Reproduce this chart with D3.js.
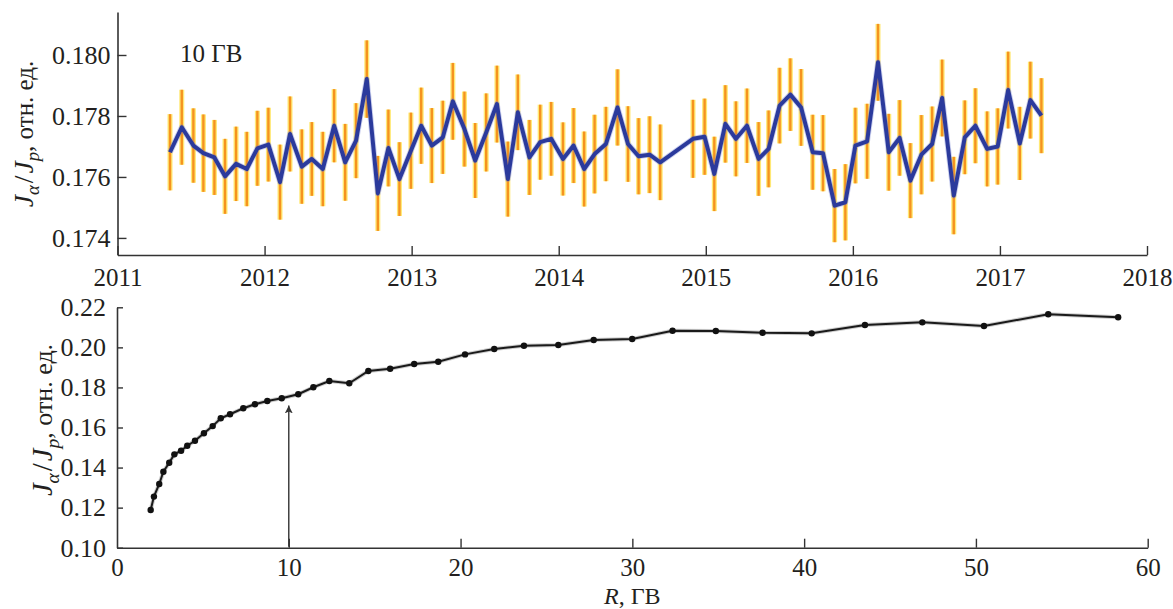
<!DOCTYPE html>
<html><head><meta charset="utf-8">
<script src="https://cdn.jsdelivr.net/npm/d3@7"></script>
<style>
html,body{margin:0;padding:0;background:#fff;}
svg{display:block;}
text{font-family:"Liberation Serif","Times New Roman",serif;fill:#231f20;}
</style></head>
<body>
<svg id="chart" width="1173" height="609"></svg>
<script>
// ---- Top panel: J_alpha/J_p at 10 GV vs time ----
const years = [2011.357,2011.437,2011.516,2011.584,2011.659,2011.731,2011.806,2011.879,2011.951,2012.026,
2012.105,2012.173,2012.253,2012.321,2012.396,2012.473,2012.548,2012.622,2012.695,2012.770,2012.842,2012.917,2012.995,
2013.065,2013.137,2013.212,2013.280,2013.359,2013.432,2013.507,2013.580,2013.654,2013.722,2013.801,2013.874,2013.949,
2014.029,2014.101,2014.173,2014.244,2014.321,2014.400,2014.471,2014.543,2014.618,2014.690,2014.913,2014.992,
2015.058,2015.133,2015.205,2015.280,2015.359,2015.427,2015.502,2015.575,2015.648,2015.727,2015.797,2015.876,2015.949,
2016.017,2016.097,2016.171,2016.244,2016.318,2016.391,2016.466,2016.539,2016.607,2016.686,2016.761,2016.833,2016.913,2016.985,
2017.056,2017.135,2017.207,2017.282];
const ratio10 = [0.17681,0.17763,0.17703,0.17678,0.17664,0.17602,0.17643,0.17626,0.17694,0.17706,
0.17583,0.17741,0.17634,0.17659,0.17626,0.17768,0.17648,0.17719,0.17921,0.17546,0.17695,0.17593,0.17686,
0.17768,0.17703,0.17730,0.17848,0.17757,0.17654,0.17746,0.17839,0.17593,0.17812,0.17664,0.17714,0.17725,
0.17659,0.17703,0.17626,0.17675,0.17708,0.17828,0.17708,0.17668,0.17673,0.17648,0.17725,0.17732,
0.17610,0.17774,0.17725,0.17768,0.17659,0.17692,0.17834,0.17870,0.17828,0.17681,0.17678,0.17506,0.17517,
0.17703,0.17717,0.17976,0.17681,0.17728,0.17588,0.17673,0.17708,0.17859,0.17539,0.17730,0.17768,0.17692,0.17700,
0.17885,0.17710,0.17852,0.17801];
const err10 = [0.00125,0.00123,0.00122,0.00127,0.00123,0.00123,0.00122,0.00122,0.00123,0.00121,
0.00123,0.00123,0.00122,0.00121,0.00122,0.00120,0.00126,0.00123,0.00127,0.00123,0.00126,0.00121,0.00125,
0.00125,0.00123,0.00120,0.00126,0.00123,0.00123,0.00128,0.00126,0.00123,0.00124,0.00123,0.00123,0.00121,
0.00120,0.00123,0.00123,0.00129,0.00122,0.00125,0.00124,0.00125,0.00126,0.00124,0.00128,0.00125,
0.00122,0.00127,0.00123,0.00122,0.00121,0.00126,0.00124,0.00119,0.00126,0.00123,0.00125,0.00120,0.00125,
0.00124,0.00123,0.00126,0.00126,0.00124,0.00123,0.00130,0.00123,0.00126,0.00127,0.00121,0.00123,0.00123,0.00125,
0.00126,0.00120,0.00126,0.00123];
const yearTicks = [2011,2012,2013,2014,2015,2016,2017,2018];
const topYTicks = [0.174,0.176,0.178,0.180];
const topLabel = "10 ГВ";

// ---- Bottom panel: J_alpha/J_p vs rigidity ----
const rigidity = [1.96,2.15,2.46,2.70,3.04,3.34,3.73,4.09,4.54,5.06,5.57,6.04,6.58,7.35,8.03,8.75,9.59,10.55,11.43,12.36,
13.52,14.63,15.9,17.3,18.7,20.26,21.96,23.69,25.69,27.75,29.99,32.34,34.86,37.58,40.44,43.54,46.88,50.47,54.21,58.28];
const ratioR = [0.1188,0.1255,0.1318,0.1379,0.1424,0.1466,0.1484,0.1509,0.1534,0.1571,0.1607,0.1646,0.1666,0.1696,0.1716,0.1732,0.1746,0.1766,0.1801,0.1832,
0.1821,0.1882,0.1893,0.1917,0.1928,0.1965,0.1992,0.2008,0.2012,0.2037,0.2042,0.2083,0.2082,0.2073,0.2070,0.2112,0.2125,0.2107,0.2165,0.2150];
const rTicks = [0,10,20,30,40,50,60];
const bottomYTicks = [0.10,0.12,0.14,0.16,0.18,0.20,0.22];
const arrowR = 10, arrowFrom = 0.10, arrowTo = 0.171;

const svg = d3.select("#chart");
const axisColor = "#333";

// scales
const xT = d3.scaleLinear().domain([2011,2018]).range([117.5,1147]);
const yT = d3.scaleLinear().domain([0.17344,0.18141]).range([255,12]);
const xB = d3.scaleLinear().domain([0,60]).range([117,1147.7]);
const yB = d3.scaleLinear().domain([0.10,0.22]).range([547.7,307.3]);

function styleAxis(g, fs){
  g.select(".domain").attr("stroke",axisColor).attr("stroke-width",1.6);
  g.selectAll(".tick line").attr("stroke",axisColor).attr("stroke-width",1.4);
  g.selectAll(".tick text").attr("font-size",fs).attr("fill","#231f20")
    .style("font-family","'Liberation Serif','Times New Roman',serif");
  g.attr("font-family",null);
}

// ---- top axes ----
const gxT = svg.append("g").attr("transform",`translate(0,${yT.range()[0]})`)
  .call(d3.axisBottom(xT).tickValues(yearTicks).tickFormat(d3.format("d")).tickSizeInner(-9).tickSizeOuter(0).tickPadding(13));
styleAxis(gxT,25);
const gyT = svg.append("g").attr("transform",`translate(${xT.range()[0]},0)`)
  .call(d3.axisLeft(yT).tickValues(topYTicks).tickFormat(d3.format(".3f")).tickSizeInner(-9).tickSizeOuter(0).tickPadding(7));
styleAxis(gyT,26);

// error bars
const bars = svg.append("g");
years.forEach((t,i)=>{
  bars.append("line").attr("x1",xT(t)).attr("x2",xT(t))
    .attr("y1",yT(ratio10[i]-err10[i])).attr("y2",yT(ratio10[i]+err10[i]))
    .attr("stroke","#ffe45c").attr("stroke-width",5).attr("stroke-opacity",0.85);
  bars.append("line").attr("x1",xT(t)).attr("x2",xT(t))
    .attr("y1",yT(ratio10[i]-err10[i])).attr("y2",yT(ratio10[i]+err10[i]))
    .attr("stroke","#f5931f").attr("stroke-width",2.4);
});
// blue line
const lineT = d3.line().x((d,i)=>xT(years[i])).y(d=>yT(d));
svg.append("path").datum(ratio10).attr("d",lineT).attr("fill","none")
  .attr("stroke","#6d7cd0").attr("stroke-width",5.8).attr("stroke-opacity",0.35).attr("stroke-linejoin","round");
svg.append("path").datum(ratio10).attr("d",lineT).attr("fill","none")
  .attr("stroke","#2b3a9c").attr("stroke-width",4).attr("stroke-linejoin","round");

svg.append("text").attr("x",180).attr("y",62).attr("font-size",25).text(topLabel);

// ---- bottom axes ----
const gxB = svg.append("g").attr("transform",`translate(0,${yB.range()[0]})`)
  .call(d3.axisBottom(xB).tickValues(rTicks).tickFormat(d3.format("d")).tickSizeInner(-9).tickSizeOuter(0).tickPadding(10.5));
styleAxis(gxB,25);
gxB.selectAll(".tick").filter(d=>d===0).select("line").remove();
const gyB = svg.append("g").attr("transform",`translate(${xB.range()[0]},0)`)
  .call(d3.axisLeft(yB).tickValues(bottomYTicks).tickFormat(d3.format(".2f")).tickSizeInner(-6).tickSizeOuter(0).tickPadding(11));
styleAxis(gyB,26);

// arrow
svg.append("defs").append("marker").attr("id","ah").attr("viewBox","0 0 10 10")
  .attr("refX",10).attr("refY",5).attr("markerWidth",8).attr("markerHeight",8)
  .attr("markerUnits","userSpaceOnUse").attr("orient","auto")
  .append("path").attr("d","M0,0 L10,5 L0,10 L2.5,5 Z").attr("fill","#333");
svg.append("line").attr("x1",xB(arrowR)).attr("x2",xB(arrowR))
  .attr("y1",yB(arrowFrom)-1).attr("y2",yB(arrowTo))
  .attr("stroke","#333").attr("stroke-width",1.4).attr("marker-end","url(#ah)");

// rigidity curve
const lineB = d3.line().x((d,i)=>xB(rigidity[i])).y(d=>yB(d));
svg.append("path").datum(ratioR).attr("d",lineB).attr("fill","none")
  .attr("stroke","#999").attr("stroke-width",4).attr("stroke-opacity",0.5);
svg.append("path").datum(ratioR).attr("d",lineB).attr("fill","none")
  .attr("stroke","#1a1a1a").attr("stroke-width",2);
svg.append("g").selectAll("circle").data(ratioR).join("circle")
  .attr("cx",(d,i)=>xB(rigidity[i])).attr("cy",d=>yB(d)).attr("r",3.2).attr("fill","#111");

// ---- axis titles ----
function yTitle(x,y,fs){
  const t = svg.append("text").attr("transform",`translate(${x},${y}) rotate(-90)`)
    .attr("text-anchor","middle").attr("font-size",fs);
  t.append("tspan").attr("font-style","italic").attr("font-size",fs*1.1).text("J");
  t.append("tspan").attr("font-style","italic").attr("font-size",fs*0.75).attr("dy",fs*0.25).text("α");
  t.append("tspan").attr("dy",-fs*0.25).attr("font-size",fs*1.1).attr("dx",2).text("/");
  t.append("tspan").attr("font-style","italic").attr("font-size",fs*1.1).attr("dx",2).text("J");
  t.append("tspan").attr("font-style","italic").attr("font-size",fs*0.75).attr("dy",fs*0.25).text("p");
  t.append("tspan").attr("dy",-fs*0.25).text(", отн. ед.");
}
yTitle(33,134,25);
yTitle(52,420,26);

const xt = svg.append("text").attr("x",(xB.range()[0]+xB.range()[1])/2).attr("y",604)
  .attr("text-anchor","middle").attr("font-size",24);
xt.append("tspan").attr("font-style","italic").text("R");
xt.append("tspan").text(", ГВ");
</script>
</body></html>
